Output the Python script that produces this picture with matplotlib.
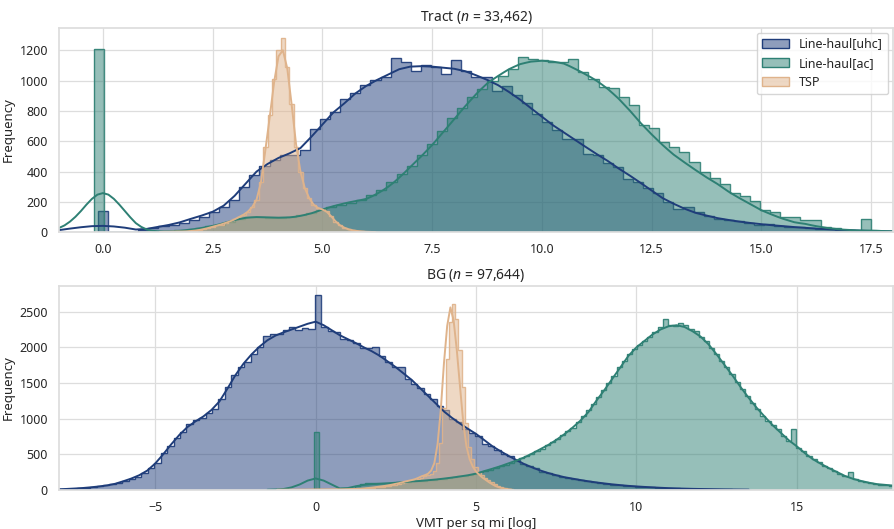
import matplotlib
matplotlib.use("Agg")
import matplotlib.pyplot as plt
from matplotlib.patches import Patch
from matplotlib.colors import to_rgba
import numpy as np
import seaborn as sns

##################
# data
##################
SERIES = ["Line-haul[uhc]", "Line-haul[ac]", "TSP"]
COLORS = ["#1f3d7a", "#2e8074", "#dfb38b"]

# --- Tract panel ---
tract_title = "Tract ($n$ = 33,462)"
tract_xlim = (-1.0, 18.0)
tract_ylim = (0, 1350)

# histogram bins: first edge, bin width, counts
tract_uhc_start, tract_uhc_width = -0.115, 0.23
tract_uhc_counts = [140, 0, 0, 0, 14, 28, 40, 48, 62, 82, 103, 136, 169, 213, 300, 378, 437, 477,
                    510, 510, 542, 680, 747, 791, 879, 916, 971, 1004, 1022, 1147, 1120, 1065, 1103,
                    1092, 1043, 1136, 1065, 1026, 1026, 933, 966, 905, 850, 782, 727, 672, 612, 612,
                    518, 508, 455, 430, 350, 334, 290, 257, 202, 152, 169, 136, 110, 90, 81, 72, 62,
                    50, 52, 42, 36, 33, 26, 22, 20, 15, 12, 9, 8, 5]

tract_ac_start, tract_ac_width = -0.21, 0.23
tract_ac_counts = [1205, 0, 0, 0, 0, 0, 5, 8, 12, 18, 28, 38, 50, 70, 88, 98, 100, 96, 95, 100, 112,
                   128, 148, 168, 180, 195, 215, 245, 280, 330, 385, 440, 510, 580, 670, 750, 820,
                   890, 945, 1000, 1030, 1075, 1158, 1140, 1135, 1125, 1120, 1140, 1059, 1010, 960,
                   949, 894, 839, 707, 686, 597, 564, 531, 463, 400, 356, 320, 257, 240, 208, 147,
                   136, 103, 103, 81, 81, 37, 25, 15, 10, 86, 8, 5]

tract_tsp_start, tract_tsp_width = 1.25, 0.1
tract_tsp_counts = [2, 3, 4, 3, 5, 6, 5, 8, 11, 15, 22, 29, 35, 46, 50, 63, 72, 84, 102, 114, 136,
                    168, 212, 330, 560, 770, 1010, 1200, 1279, 1090, 845, 560, 395, 290, 224, 178,
                    162, 154, 138, 108, 70, 46, 30, 19, 12, 8, 5, 3, 2, 1]

# kde curves: first x, step, values
tract_uhc_kde_start, tract_uhc_kde_step = -1.0, 0.25
tract_uhc_kde = [14, 24, 33, 40, 42, 38, 30, 18, 22, 35, 48, 65, 88, 110, 135, 175, 240, 320, 400,
                 450, 490, 520, 555, 630, 710, 790, 850, 915, 965, 1005, 1040, 1075, 1092, 1095,
                 1092, 1085, 1078, 1062, 1035, 1005, 970, 925, 875, 818, 762, 706, 658, 610, 562,
                 515, 470, 420, 374, 325, 275, 225, 188, 155, 128, 110, 93, 81, 70, 61, 53, 46, 40,
                 34, 29, 24, 20, 16, 13, 10, 8, 6, 5]

tract_ac_kde_start, tract_ac_kde_step = -1.0, 0.125
tract_ac_kde = [28, 45, 70, 102, 140, 182, 220, 248, 258, 248, 220, 182, 140, 98, 60, 35, 18, 10,
                6, 5, 5, 6, 9, 13, 18, 22, 28, 35, 42, 50, 60, 70, 80, 88, 95, 98, 100, 99, 98, 97,
                96, 97, 98, 102, 108, 116, 125, 137, 150, 161, 172, 181, 190, 198, 205, 212, 220,
                236, 255, 276, 300, 328, 360, 394, 430, 465, 500, 537, 575, 617, 660, 702, 745, 788,
                830, 870, 910, 946, 980, 1006, 1030, 1053, 1075, 1092, 1108, 1117, 1125, 1128, 1131,
                1128, 1125, 1119, 1112, 1096, 1078, 1060, 1040, 1020, 998, 972, 945, 913, 880, 842,
                803, 762, 720, 682, 645, 610, 575, 543, 512, 486, 460, 435, 410, 386, 362, 340, 318,
                293, 268, 246, 225, 205, 185, 165, 145, 130, 115, 101, 88, 77, 66, 60, 55, 47, 40,
                34, 28, 24, 20, 17, 15, 13, 12, 11, 11, 10, 8, 7, 6]

tract_tsp_kde_start, tract_tsp_kde_step = 1.3, 0.1
tract_tsp_kde = [2, 3, 3, 4, 5, 5, 6, 8, 11, 15, 21, 28, 36, 44, 52, 62, 72, 85, 100, 115, 135,
                 165, 215, 330, 540, 760, 990, 1160, 1200, 1080, 840, 580, 400, 290, 225, 182, 160,
                 150, 135, 105, 72, 46, 30, 19, 12, 8, 5, 3, 2, 1]

# --- BG panel ---
bg_title = "BG ($n$ = 97,644)"
bg_xlim = (-8.0, 18.0)
bg_ylim = (0, 2865)

bg_uhc_start, bg_uhc_width = -8.03, 0.2
bg_uhc_counts = [8, 12, 18, 24, 30, 40, 50, 62, 85, 100, 128, 150, 175, 230, 300, 380, 520, 620,
                 730, 810, 920, 980, 1010, 1080, 1140, 1280, 1450, 1610, 1720, 1800, 1900, 2010,
                 2160, 2180, 2190, 2240, 2290, 2240, 2270, 2250, 2730, 2280, 2230, 2210, 2120, 2100,
                 2060, 1990, 1990, 2010, 1880, 1800, 1730, 1720, 1560, 1480, 1430, 1350, 1280, 1180,
                 1120, 1000, 950, 850, 800, 760, 640, 620, 560, 500, 470, 420, 360, 330, 300, 255,
                 240, 205, 180, 165, 152, 135, 122, 110, 95, 88, 75, 68, 60, 52, 46, 40, 36, 31, 27,
                 24, 20, 17, 15, 13, 11, 9, 8, 7, 5, 4, 3, 2]

bg_ac_start, bg_ac_width = -0.06, 0.16
bg_ac_counts = [810, 0, 0, 0, 0, 0, 0, 0, 60, 85, 100, 98, 90, 95, 98, 100, 105, 110, 112, 118, 122,
                128, 135, 140, 150, 158, 168, 178, 190, 200, 215, 228, 245, 265, 285, 305, 330, 355,
                380, 405, 440, 470, 505, 545, 580, 625, 670, 715, 770, 820, 870, 950, 1030, 1120,
                1200, 1300, 1400, 1500, 1600, 1720, 1810, 1900, 1980, 2030, 2090, 2150, 2210, 2290,
                2400, 2310, 2300, 2340, 2320, 2250, 2230, 2150, 2090, 1990, 1900, 1810, 1720, 1620,
                1510, 1410, 1310, 1220, 1140, 1040, 970, 905, 860, 760, 690, 860, 590, 540, 480,
                430, 390, 340, 300, 265, 225, 190, 255, 150, 130, 110, 92, 80, 72, 65, 60]

bg_tsp_start, bg_tsp_width = -1.25, 0.1
bg_tsp_counts = [1, 1, 2, 2, 2, 3, 3, 3, 4, 4, 4, 5, 5, 5, 6, 6, 6, 7, 7, 7, 8, 8, 9, 10, 11, 12,
                 14, 16, 20, 24, 29, 34, 40, 46, 52, 58, 66, 75, 85, 94, 106, 118, 128, 138, 150,
                 168, 190, 205, 225, 270, 375, 656, 1150, 1830, 2350, 2610, 2400, 1966, 1450, 940,
                 600, 430, 325, 255, 211, 172, 140, 108, 80, 55, 38, 24, 15, 8, 4]

bg_uhc_kde_start, bg_uhc_kde_step = -8.0, 0.25
bg_uhc_kde = [8, 13, 19, 26, 36, 48, 63, 85, 120, 158, 205, 270, 370, 500, 640, 770, 880, 960,
              1030, 1120, 1240, 1420, 1610, 1770, 1900, 2010, 2100, 2165, 2210, 2250, 2290, 2330,
              2360, 2310, 2240, 2170, 2115, 2060, 2000, 1945, 1880, 1800, 1720, 1630, 1540, 1430,
              1320, 1210, 1100, 1010, 930, 855, 785, 700, 615, 545, 480, 420, 362, 315, 272, 236,
              205, 178, 158, 138, 120, 104, 90, 77, 66, 56, 48, 41, 35, 29, 24, 20, 17, 14, 12,
              10, 8, 6, 5, 4, 3]

bg_ac_kde_start, bg_ac_kde_step = -1.5, 0.25
bg_ac_kde = [2, 5, 12, 35, 75, 130, 160, 130, 75, 20, 25, 50, 70, 80, 85, 92, 100, 108, 118, 125,
             135, 145, 158, 172, 188, 205, 228, 262, 295, 330, 370, 410, 455, 510, 570, 630, 700,
             780, 870, 970, 1090, 1250, 1400, 1560, 1720, 1880, 2000, 2090, 2180, 2250, 2295, 2310,
             2285, 2225, 2150, 2040, 1900, 1750, 1600, 1440, 1290, 1150, 1025, 905, 800, 695, 610,
             515, 430, 365, 305, 250, 195, 155, 125, 100, 80, 70, 60]

bg_tsp_kde_start, bg_tsp_kde_step = -1.2, 0.1
bg_tsp_kde = [1, 2, 2, 2, 3, 3, 3, 4, 4, 4, 5, 5, 5, 6, 6, 6, 7, 7, 7, 8, 8, 9, 10, 11, 12, 14, 16,
              20, 24, 29, 34, 40, 46, 52, 58, 66, 75, 85, 94, 106, 118, 128, 138, 150, 168, 190,
              205, 225, 270, 375, 640, 1120, 1780, 2300, 2560, 2380, 1960, 1450, 950, 610, 430,
              325, 255, 211, 172, 140, 108, 80, 55, 38, 24, 15, 8, 4]


##################
# style
##################
sns.set_theme(style="whitegrid")
plt.rcParams["font.family"] = ["Noto Sans", "DejaVu Sans"]
plt.rcParams["mathtext.fontset"] = "custom"
plt.rcParams["mathtext.rm"] = "Noto Sans"
plt.rcParams["mathtext.it"] = "Noto Sans:italic"
plt.rcParams["axes.edgecolor"] = "#dddddd"
plt.rcParams["grid.color"] = "#dddddd"


def draw_hist(ax, start, width, counts, kde_start, kde_step, kde, color):
    counts = np.asarray(counts, dtype=float)
    edges = start + width * np.arange(len(counts) + 1)
    ax.stairs(counts, edges, fill=True, facecolor=to_rgba(color, 0.5), edgecolor="none")
    ax.stairs(counts, edges, color=color, linewidth=1.0, alpha=0.9)
    kde = np.asarray(kde, dtype=float)
    kx = kde_start + kde_step * np.arange(len(kde))
    ax.plot(kx, kde, color=color, linewidth=1.4)


def style_axes(ax, title, xlim, ylim):
    ax.set_xlim(*xlim)
    ax.set_ylim(*ylim)
    ax.set_title(title, fontsize=10, pad=5)
    ax.set_ylabel("Frequency", fontsize=9.5, labelpad=3)
    ax.tick_params(labelsize=9, pad=2)
    ax.grid(True, color="#dddddd", linewidth=0.9)


fig = plt.figure(figsize=(8.94, 5.29), dpi=100)
ax_top = fig.add_axes([0.066, 0.561, 0.933, 0.387])
ax_bot = fig.add_axes([0.066, 0.074, 0.933, 0.386])

draw_hist(ax_top, tract_uhc_start, tract_uhc_width, tract_uhc_counts,
          tract_uhc_kde_start, tract_uhc_kde_step, tract_uhc_kde, COLORS[0])
draw_hist(ax_top, tract_ac_start, tract_ac_width, tract_ac_counts,
          tract_ac_kde_start, tract_ac_kde_step, tract_ac_kde, COLORS[1])
draw_hist(ax_top, tract_tsp_start, tract_tsp_width, tract_tsp_counts,
          tract_tsp_kde_start, tract_tsp_kde_step, tract_tsp_kde, COLORS[2])
style_axes(ax_top, tract_title, tract_xlim, tract_ylim)

draw_hist(ax_bot, bg_uhc_start, bg_uhc_width, bg_uhc_counts,
          bg_uhc_kde_start, bg_uhc_kde_step, bg_uhc_kde, COLORS[0])
draw_hist(ax_bot, bg_ac_start, bg_ac_width, bg_ac_counts,
          bg_ac_kde_start, bg_ac_kde_step, bg_ac_kde, COLORS[1])
draw_hist(ax_bot, bg_tsp_start, bg_tsp_width, bg_tsp_counts,
          bg_tsp_kde_start, bg_tsp_kde_step, bg_tsp_kde, COLORS[2])
style_axes(ax_bot, bg_title, bg_xlim, bg_ylim)
ax_bot.set_xlabel("VMT per sq mi [log]", fontsize=9.5, labelpad=2)

handles = [Patch(facecolor=to_rgba(c, 0.5), edgecolor=c, linewidth=1.0) for c in COLORS]
ax_top.legend(handles, SERIES, loc="upper right", fontsize=9, frameon=True,
              borderaxespad=0.4, handlelength=2.2)

fig.savefig("out.png", dpi=100)
